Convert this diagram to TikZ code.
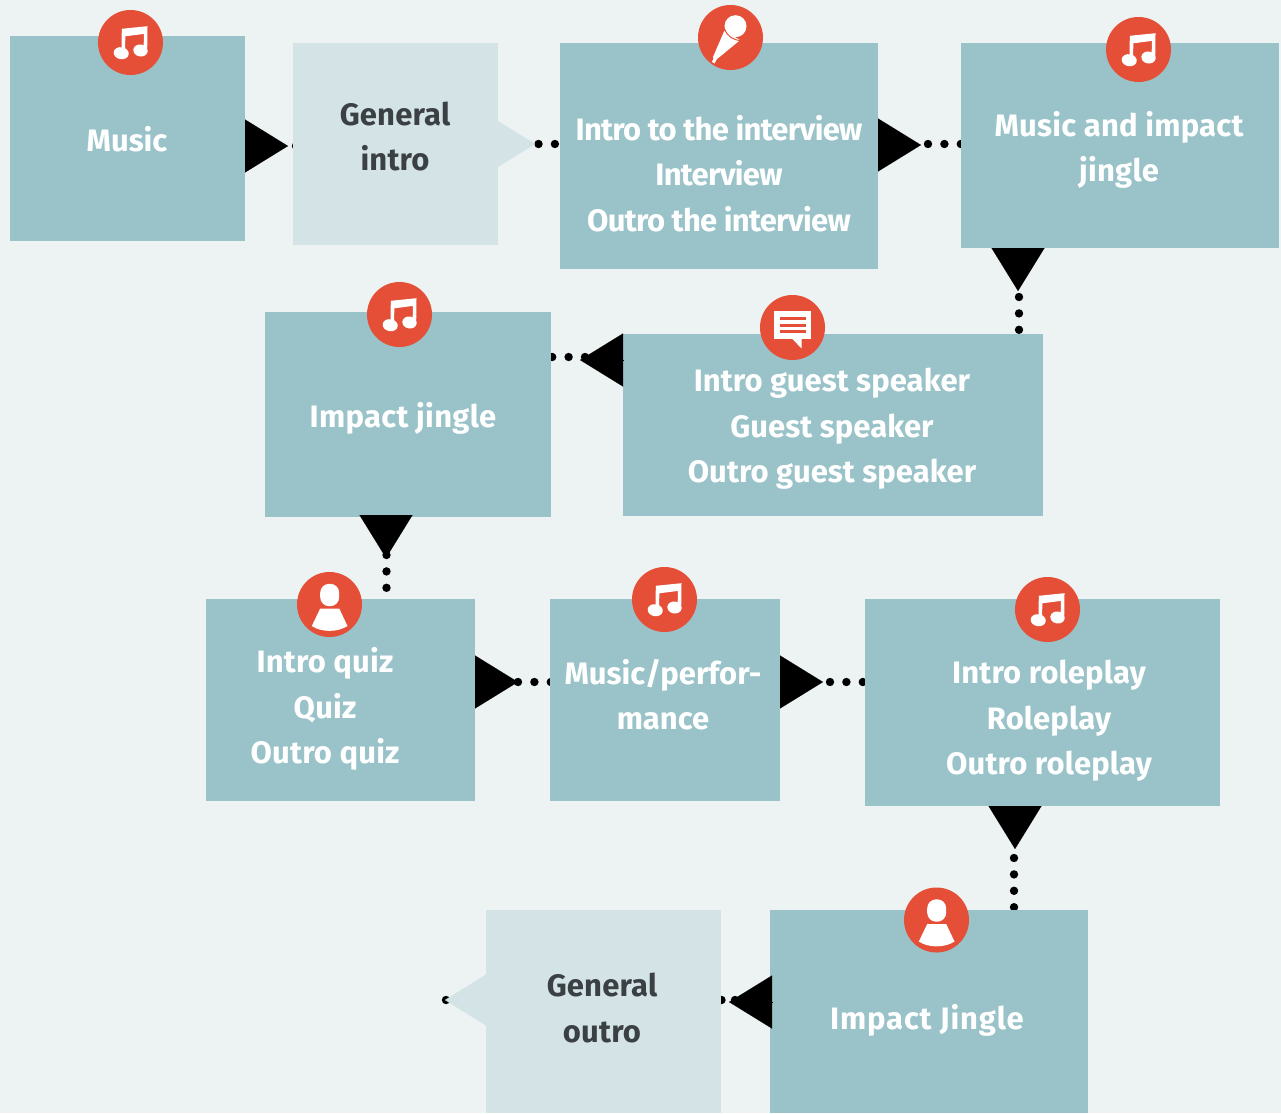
\documentclass[tikz,border=0pt]{standalone}
\usepackage{fontspec}
\setmainfont{Fira Sans}
\usetikzlibrary{arrows.meta,backgrounds}
\definecolor{pagebg}{HTML}{EDF3F3}
\definecolor{boxcol}{HTML}{99C3C9}
\definecolor{lightcol}{HTML}{D3E3E6}
\definecolor{redcol}{HTML}{E54F38}
\definecolor{darktext}{HTML}{3A4043}
\tikzset{
  x=1pt,y=-1pt,
  boxnode/.style={rectangle,fill=boxcol,inner sep=0pt,outer sep=0pt},
  lightbox/.style={rectangle,fill=lightcol,inner sep=0pt,outer sep=0pt},
  txt/.style={font=\fontsize{31}{45.4}\selectfont\bfseries\addfontfeature{LetterSpace=#1},text=white,align=center,inner sep=0pt},
  txt/.default=0,
  dtxt/.style={txt=#1,text=darktext},
  dtxt/.default=0.6,
  badge/.style={circle,fill=redcol,minimum size=65pt,inner sep=0pt,outer sep=0pt},
  tri/.style={line width=0.1pt,draw=black,-{Triangle[length=43pt,width=53pt,fill=black]}},
  ltri/.style={line width=0.1pt,draw=lightcol,-{Triangle[length=42pt,width=52pt,fill=lightcol]}},
  dotl/.style={line width=8.4pt,line cap=round,draw=black,dash pattern=on 0pt off 16.4pt},
  dotsh/.style={dotl,dash pattern=on 0pt off 13.5pt},
  musicicon/.pic={
    \fill[white,even odd rule] (-8.7,-13.7)--(17,-16.3)--(16.7,8)--(13,8)--(13.5,-8.6)--(-5.2,-6.2)--(-5.4,10)--(-9,10)--cycle;
    \fill[white,rotate around={-10:(-9.3,10.7)}] (-9.3,10.7) ellipse[x radius=7.6,y radius=6];
    \fill[white,rotate around={-10:(10,8)}] (10,8) ellipse[x radius=7.2,y radius=6];
  },
  micicon/.pic={
    \fill[white] (5,-11.3) circle[radius=11];
    \fill[white] (-6.2,-6.6)--(9.6,2.6)--(-14,22)--(-17.7,20)--cycle;
    \fill[white] (-16.6,20)--(-13.8,22)--(-16,26)--(-18.6,24.4)--cycle;
    \draw[redcol,line width=1pt] (-6,-8.6)..controls (-3,-1) and (3,3)..(11,3);
  },
  chaticon/.pic={
    \fill[white] (-18.3,-16.3) rectangle (18.3,11.7);
    \fill[white] (0,11.5)--(9,21)--(9,11.5)--cycle;
    \fill[redcol] (-12.7,-10.7) rectangle (13.3,-7.5);
    \fill[redcol] (-12.7,-4) rectangle (13.3,-0.8);
    \fill[redcol] (-12.7,2.6) rectangle (13.3,5.6);
  },
  personicon/.pic={
    \fill[white,rounded corners=9pt] (-9.3,-20.7) rectangle (9.7,1.7);
    \fill[white] (-9.3,4)--(9.7,4)--(18,21.5)..controls (8,28) and (-8,28)..(-17.7,21.5)--cycle;
  },
}
\begin{document}
\begin{tikzpicture}
\useasboundingbox (0,0) rectangle (1281,1113);
% boxes
\node[boxnode,anchor=north west,minimum width=235pt,minimum height=205pt] (music) at (10,36) {};
\node[lightbox,anchor=north west,minimum width=205pt,minimum height=202pt] (gintro) at (293,43) {};
\node[boxnode,anchor=north west,minimum width=318pt,minimum height=226pt] (interview) at (560,43) {};
\node[boxnode,anchor=north west,minimum width=318pt,minimum height=205pt] (impact) at (961,43) {};
\node[boxnode,anchor=north west,minimum width=286pt,minimum height=205pt] (jingle) at (265,312) {};
\node[boxnode,anchor=north west,minimum width=420pt,minimum height=182pt] (guest) at (623,334) {};
\node[boxnode,anchor=north west,minimum width=269pt,minimum height=202pt] (quiz) at (206,599) {};
\node[boxnode,anchor=north west,minimum width=230pt,minimum height=202pt] (perf) at (550,599) {};
\node[boxnode,anchor=north west,minimum width=355pt,minimum height=207pt] (role) at (865,599) {};
\node[boxnode,anchor=north west,minimum width=318pt,minimum height=203pt] (ijingle) at (770,910) {};
\node[lightbox,anchor=north west,minimum width=235pt,minimum height=203pt] (goutro) at (486,910) {};
% tips and first dots
\coordinate (t1) at (288,146); \coordinate (d1) at (296,146);
\coordinate (t2) at (535,144); \coordinate (d2) at (538.5,144);
\coordinate (t3) at (921,145); \coordinate (d3) at (928,144);
\coordinate (t4) at (1018,291); \coordinate (d4) at (1019,297);
\coordinate (t5) at (580,360); \coordinate (d5) at (585,357);
\coordinate (t6) at (386,558); \coordinate (d6) at (386.5,555);
\coordinate (t7) at (518,682); \coordinate (d7) at (518,682);
\coordinate (t8) at (823,682); \coordinate (d8) at (830,682);
\coordinate (t9) at (1015,849); \coordinate (d9) at (1014,858);
\coordinate (t10) at (729,1002); \coordinate (d10) at (735,1000);
\coordinate (t11) at (445,1000); \coordinate (d11) at (446,1000);
% dotted connectors, below the boxes
\begin{scope}[on background layer]
\fill[pagebg] (0,0) rectangle (1281,1113);
\draw[dotl] (d1) -- (gintro.west |- d1);
\draw[dotl] (d2) -- (interview.west |- d2);
\draw[dotl] (d3) -- (impact.west |- d3);
\draw[dotl] (d4) -- (d4 |- guest.north);
\draw[dotl] (d5) -- (jingle.east |- d5);
\draw[dotl] (d6) -- (d6 |- quiz.north);
\draw[dotl] (d7) -- ([xshift=2pt]perf.west |- d7);
\draw[dotl] (d8) -- (role.west |- d8);
\draw[dotl] (d9) -- (d9 |- ijingle.north);
\draw[dotsh] (d10) -- (goutro.east |- d10);
\draw[dotl] (d11) -- (t11);
\end{scope}
% triangles
\draw[tri] (music.east |- t1) -- (t1);
\draw[ltri] ([xshift=-5pt]gintro.east |- t2) -- (t2);
\draw[tri] (interview.east |- t3) -- (t3);
\draw[tri] (t4 |- impact.south) -- (t4);
\draw[tri] (guest.west |- t5) -- (t5);
\draw[tri] (t6 |- jingle.south) ++(0,-2) -- (t6);
\draw[tri] (quiz.east |- t7) -- (t7);
\draw[tri] (perf.east |- t8) -- (t8);
\draw[tri] (t9 |- role.south) -- (t9);
\draw[tri] ([xshift=2pt]ijingle.west |- t10) -- (t10);
\draw[ltri] ([xshift=5pt]goutro.west |- t11) -- (t11);
% texts
\node[txt] (tmusic) at (127,139) {Music};
\node[dtxt] (tgintro) at (395,136.5) {General\\intro};
\node[txt=-2.3] (tinterview) at (719,173.5) {Intro to the interview\\Interview\\Outro the interview};
\node[txt=0.8] (timpact) at (1119,150) {Music and impact\\jingle};
\node[txt=1] (tjingle) at (403,418) {Impact jingle};
\node[txt=0.2] (tguest) at (832,429) {Intro guest speaker\\Guest speaker\\Outro guest speaker};
\node[txt=0.6] (tquiz) at (325,709) {Intro quiz\\Quiz\\Outro quiz};
\node[txt] (tperf) at (663,694.5) {Music/perfor-\\mance};
\node[txt=0.5] (trole) at (1049,721) {Intro roleplay\\Roleplay\\Outro roleplay};
\node[txt=2.7] (tijingle) at (927,1020) {Impact Jingle};
\node[dtxt] (tgoutro) at (602,1008) {General\\outro};
% badges
\node[badge] (b1) at (130.5,42.5) {};    \pic at (b1) {musicicon};
\node[badge] (b2) at (730.5,37.5) {};    \pic at (b2) {micicon};
\node[badge] (b3) at (1138.5,49.5) {};   \pic at (b3) {musicicon};
\node[badge] (b4) at (399.5,314.5) {};   \pic at (b4) {musicicon};
\node[badge] (b5) at (792.5,327.5) {}; \pic at (b5) {chaticon};
\node[badge] (b6) at (329.5,604.5) {};   \pic at (b6) {personicon};
\node[badge] (b7) at (664.5,599.5) {};   \pic at (b7) {musicicon};
\node[badge] (b8) at (1047.5,609.5) {};  \pic at (b8) {musicicon};
\node[badge] (b9) at (936.5,920) {};   \pic at (b9) {personicon};
\end{tikzpicture}
\end{document}
